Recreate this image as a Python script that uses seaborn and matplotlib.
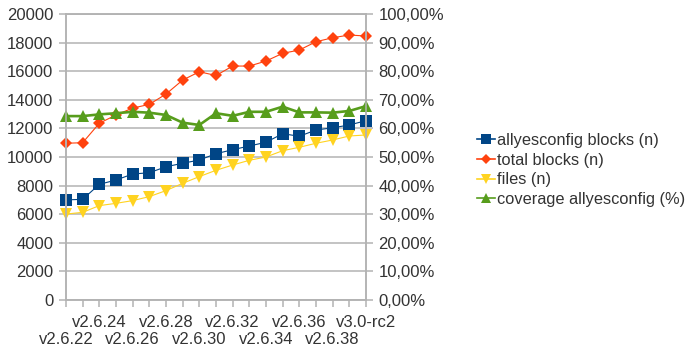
import matplotlib
matplotlib.use("Agg")
import matplotlib.pyplot as plt
from matplotlib.lines import Line2D
from matplotlib.ticker import FuncFormatter, MultipleLocator, FixedLocator
import seaborn as sns
import pandas as pd

# Kernel releases
versions = ["v2.6.22", "v2.6.23", "v2.6.24", "v2.6.25", "v2.6.26", "v2.6.27",
            "v2.6.28", "v2.6.29", "v2.6.30", "v2.6.31", "v2.6.32", "v2.6.33",
            "v2.6.34", "v2.6.35", "v2.6.36", "v2.6.37", "v2.6.38", "v2.6.39",
            "v3.0-rc2"]

# Counts per release
allyesconfig_blocks = [7000, 7040, 8090, 8390, 8810, 8900, 9320, 9560, 9790,
                       10230, 10510, 10770, 11030, 11630, 11450, 11890, 12040,
                       12240, 12540]
total_blocks = [10960, 11000, 12360, 12940, 13420, 13680, 14400, 15380, 15960,
                15700, 16360, 16360, 16710, 17250, 17480, 18060, 18340,
                18530, 18460]
files = [6010, 6130, 6600, 6760, 6950, 7230, 7650, 8160, 8630, 9070, 9440,
         9770, 10000, 10440, 10680, 10960, 11190, 11470, 11540]

# Share of blocks covered by allyesconfig
coverage = [0.643, 0.643, 0.649, 0.653, 0.658, 0.655, 0.647, 0.620, 0.612,
            0.653, 0.644, 0.658, 0.658, 0.676, 0.656, 0.656, 0.655, 0.661,
            0.678]

BLUE, RED, YELLOW, GREEN = "#004586", "#ff420e", "#ffd320", "#579d1c"
GRID = "#b3b3b3"
TEXT = "#333333"

plt.rcParams["font.family"] = ["Liberation Sans", "DejaVu Sans"]
plt.rcParams["font.size"] = 12.0

df = pd.DataFrame({
    "idx": range(len(versions)),
    "allyes": allyesconfig_blocks,
    "total": total_blocks,
    "files": files,
    "coverage": coverage,
})

fig = plt.figure(figsize=(6.86, 3.47), dpi=100)
ax = fig.add_axes([66 / 686, 1 - 300 / 347, 300 / 686, 286 / 347])
ax2 = ax.twinx()

series = [
    ("allyes", BLUE, "s", 8.6, 0.8),
    ("total", RED, "D", 6.2, 0.8),
    ("files", YELLOW, "v", 8.4, 0.8),
]
for col, color, marker, ms, lw in series:
    sns.lineplot(data=df, x="idx", y=col, ax=ax, color=color, marker=marker,
                 markersize=ms, markeredgewidth=0, linewidth=lw, legend=False,
                 clip_on=False)

sns.lineplot(data=df, x="idx", y="coverage", ax=ax2, color=GREEN, marker="^",
             markersize=8.4, markeredgewidth=0, linewidth=1.9, legend=False,
             clip_on=False)

ax.set_xlim(0, len(versions) - 1)
ax.set_ylim(0, 20000)
ax2.set_ylim(0, 1)
ax.yaxis.set_major_locator(MultipleLocator(2000))
ax2.yaxis.set_major_locator(MultipleLocator(0.1))
ax2.yaxis.set_major_formatter(
    FuncFormatter(lambda v, p: f"{v * 100:.2f}%".replace(".", ",")))

# Category ticks at every release; labels on every second one, in two rows
ax.set_xticks(range(len(versions)))
ax.set_xticklabels([v if i % 4 == 2 else "" for i, v in enumerate(versions)])
lower = [i for i in range(len(versions)) if i % 4 == 0]
ax.xaxis.remove_overlapping_locs = False
ax.xaxis.set_minor_locator(FixedLocator(lower))
ax.set_xticklabels([versions[i] for i in lower], minor=True)

ax.set_xlabel("")
ax.set_ylabel("")
ax2.set_ylabel("")

ax.grid(axis="y", color=GRID, linewidth=1.1)
ax.grid(axis="x", visible=False)
ax.set_axisbelow(True)
for a in (ax, ax2):
    for s in a.spines.values():
        s.set_color(GRID)
        s.set_linewidth(1.1)
    a.tick_params(colors=GRID, labelcolor=TEXT, length=5, width=1.1)
ax.tick_params(axis="x", which="major", pad=6)
ax.tick_params(axis="x", which="minor", length=0, pad=23, labelcolor=TEXT)
ax.tick_params(axis="y", pad=4)
ax2.tick_params(axis="y", pad=4)

handles = [
    Line2D([], [], color=BLUE, marker="s", markersize=6.5, markeredgewidth=0, linewidth=1.2),
    Line2D([], [], color=RED, marker="D", markersize=4.8, markeredgewidth=0, linewidth=1.2),
    Line2D([], [], color=YELLOW, marker="v", markersize=6.5, markeredgewidth=0, linewidth=1.2),
    Line2D([], [], color=GREEN, marker="^", markersize=6.5, markeredgewidth=0, linewidth=1.2),
]
names = ["allyesconfig blocks (n)", "total blocks (n)", "files (n)",
         "coverage allyesconfig (%)"]
leg = fig.legend(handles, names, loc="center left",
                 bbox_to_anchor=(477 / 686, 1 - 170 / 347), frameon=False,
                 handlelength=1.1, handletextpad=0.12, labelspacing=0.28,
                 borderaxespad=0, borderpad=0, fontsize=11.8)
for t in leg.get_texts():
    t.set_color(TEXT)

fig.savefig("out.png", dpi=100)
